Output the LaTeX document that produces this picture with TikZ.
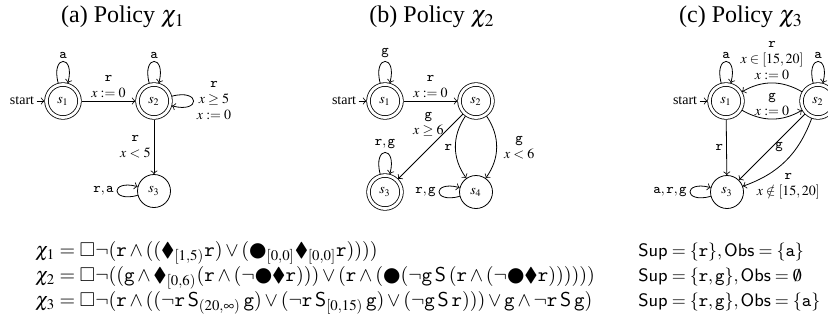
\documentclass[tikz,border=0pt]{standalone}
\usepackage{amsmath,amssymb}
\usepackage{mathptmx}
\usepackage[no-math]{fontspec}
\setmainfont{Liberation Serif}
\newfontfamily\dejavu{DejaVu Sans}
\usetikzlibrary{positioning}

\newcommand{\yest}{\mathord{\mbox{\dejavu ●}}}
\newcommand{\once}{\blacklozenge}
\newcommand{\since}{\mathbin{\mathsf{S}}}

\tikzset{
  loc/.style={circle, draw, minimum size=16.5pt, inner sep=0pt, font=\scriptsize},
  acc/.style={loc, double, double distance=1.4pt, outer sep=1pt},
  lbl/.style={font=\scriptsize, align=center, inner sep=1.5pt},
  ttl/.style={font=\large},
  frm/.style={anchor=base west, inner sep=0pt},
}

\begin{document}
\begin{tikzpicture}[x=0.5pt, y=-0.5pt]
  \useasboundingbox (0,0) rectangle (828,333);
  \clip (0,0) rectangle (828,333);

  % (a) policy chi_1
  \node[ttl] (ta) at (123,17) {(a) Policy $\chi_1$};
  \node[acc] (a1) at (63,101) {$s_1$};
  \node[acc] (a2) at (154,101) {$s_2$};
  \node[loc] (a3) at (154,191) {$s_3$};
  \node[lbl, inner sep=1pt] (sta) [left=4pt of a1] {start};

  \draw[->] (sta) -- (a1);
  \draw[->] (a1) to[loop above] node[lbl, above] {$\mathtt{a}$} (a1);
  \draw[->] (a2) to[loop above] node[lbl, above] {$\mathtt{a}$} (a2);
  \draw[->] (a1) -- node[lbl, above] {$\mathtt{r}$\\$x:=0$} (a2);
  \draw[->] (a2) to[loop right] node[lbl, right] {$\mathtt{r}$\\$x\geq 5$\\$x:=0$} (a2);
  \draw[->] (a2) -- node[lbl, left] {$\mathtt{r}$\\$x<5$} (a3);
  \draw[->] (a3) to[loop left] node[lbl, left] {$\mathtt{r},\mathtt{a}$} (a3);

  % (b) policy chi_2
  \node[ttl] (tb) at (432,17) {(b) Policy $\chi_2$};
  \node[acc] (b1) at (385,101) {$s_1$};
  \node[acc] (b2) at (476,101) {$s_2$};
  \node[acc] (b3) at (385,192) {$s_3$};
  \node[loc] (b4) at (476,192) {$s_4$};
  \node[lbl, inner sep=1pt] (stb) [left=4pt of b1] {start};

  \draw[->] (stb) -- (b1);
  \draw[->] (b1) to[loop above] node[lbl, above] {$\mathtt{g}$} (b1);
  \draw[->] (b1) -- node[lbl, above] {$\mathtt{r}$\\$x:=0$} (b2);
  \draw[->] (b2) -- node[lbl, pos=0.4, anchor=south east, xshift=5pt] {$\mathtt{g}$\\$x\geq 6$} (b3);
  \draw[->] (b2) to[bend right=35] node[lbl, left] {$\mathtt{r}$} (b4);
  \draw[->] (b2) to[bend left=35] node[lbl, right, xshift=2pt] {$\mathtt{g}$\\$x<6$} (b4);
  \draw[->] (b3) to[loop above] node[lbl, above] {$\mathtt{r},\mathtt{g}$} (b3);
  \draw[->] (b4) to[loop left] node[lbl, left] {$\mathtt{r},\mathtt{g}$} (b4);

  % (c) policy chi_3
  \node[ttl] (tc) at (741,17) {(c) Policy $\chi_3$};
  \node[acc] (c1) at (726,101) {$s_1$};
  \node[acc] (c2) at (818,101) {$s_2$};
  \node[loc] (c3) at (727,192) {$s_3$};
  \node[lbl, inner sep=1pt] (stc) [left=4pt of c1] {start};

  \draw[->] (stc) -- (c1);
  \draw[->] (c1) to[loop above] node[lbl, above] {$\mathtt{a}$} (c1);
  \draw[->] (c2) to[loop above] node[lbl, above] {$\mathtt{a}$} (c2);
  \draw[->] (c2) to[bend right=30] node[lbl, above] {$\mathtt{r}$\\$x\in[15,20]$\\$x:=0$} (c1);
  \draw[->] (c1) to[bend right=30] node[lbl, above] {$\mathtt{g}$\\$x:=0$} (c2);
  \draw[->] (c1) -- node[lbl, left] {$\mathtt{r}$} (c3);
  \draw[->] (c2) -- node[lbl, right] {$\mathtt{g}$} (c3);
  \draw[->] (c2) to[bend left=25] node[lbl, pos=0.55, below=3pt, xshift=3pt] {$\mathtt{r}$\\$x\notin[15,20]$} (c3);
  \draw[->] (c3) to[loop left] node[lbl, left] {$\mathtt{a},\mathtt{r},\mathtt{g}$} (c3);

  % formulas
  \node[frm] (f1) at (35,256) {$\chi_1=\Box\neg(\mathtt{r}\wedge((\once_{[1,5)}\mathtt{r})\vee(\yest_{[0,0]}\once_{[0,0]}\mathtt{r}))))$};
  \node[frm] (f2) at (35,281) {$\chi_2=\Box\neg((\mathtt{g}\wedge\once_{[0,6)}(\mathtt{r}\wedge(\neg\yest\once\mathtt{r})))\vee(\mathtt{r}\wedge(\yest(\neg\mathtt{g}\since(\mathtt{r}\wedge(\neg\yest\once\mathtt{r}))))))$};
  \node[frm] (f3) at (35,306) {$\chi_3=\Box\neg(\mathtt{r}\wedge((\neg\mathtt{r}\since_{(20,\infty)}\mathtt{g})\vee(\neg\mathtt{r}\since_{[0,15)}\mathtt{g})\vee(\neg\mathtt{g}\since\mathtt{r})))\vee\mathtt{g}\wedge\neg\mathtt{r}\since\mathtt{g})$};
  \node[frm, font=\small] (o1) at (638,256) {$\mathsf{Sup}=\{\mathtt{r}\},\mathsf{Obs}=\{\mathtt{a}\}$};
  \node[frm, font=\small] (o2) at (638,281) {$\mathsf{Sup}=\{\mathtt{r},\mathtt{g}\},\mathsf{Obs}=\emptyset$};
  \node[frm, font=\small] (o3) at (638,306) {$\mathsf{Sup}=\{\mathtt{r},\mathtt{g}\},\mathsf{Obs}=\{\mathtt{a}\}$};
\end{tikzpicture}
\end{document}
